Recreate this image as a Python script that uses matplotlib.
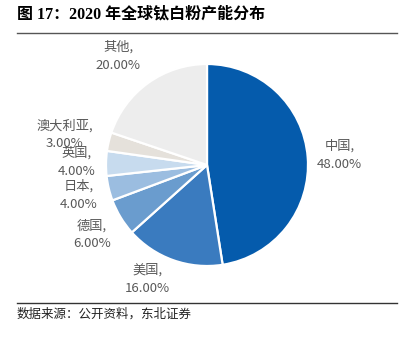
import matplotlib.pyplot as plt

plt.rcParams['font.family'] = ['Noto Sans CJK SC', 'DejaVu Sans']

regions = ['中国', '美国', '德国', '日本', '英国', '澳大利亚', '其他']
shares = [48, 16, 6, 4, 4, 3, 20]
colors = ['#055BAC', '#3A7BBF', '#6A9CCE', '#9BBDE0', '#C7DBEE', '#E5E1DB', '#EDEDED']
# label centres (data units, pie radius = 1)
label_pos = [(1.31, 0.10), (-0.59, -1.13), (-1.14, -0.69), (-1.27, -0.30),
             (-1.29, 0.03), (-1.41, 0.30), (-0.88, 1.08)]

fig = plt.figure(figsize=(4.07, 3.37), dpi=100)
ax = fig.add_axes([0, 0, 1, 1])

ax.pie(shares, colors=colors, startangle=90, counterclock=False, radius=1,
       wedgeprops=dict(edgecolor='white', linewidth=1.6))

for name, v, (x, y) in zip(regions, shares, label_pos):
    ax.text(x, y, f'{name},\n{v:.2f}%', ha='center', va='center',
            fontsize=9.5, color='#595959', linespacing=1.5)

ax.set_xlim(-207 / 101, 200 / 101)
ax.set_ylim(-172 / 101, 165 / 101)
ax.set_aspect('equal')
ax.axis('off')

fig.text(17 / 407, 1 - 15 / 337, '图 17：2020 年全球钛白粉产能分布', fontsize=11.5,
         fontweight='bold', va='center', ha='left',
         family=['Liberation Serif', 'Noto Sans CJK SC'])
fig.add_artist(plt.Line2D([17 / 407, 397 / 407], [1 - 33 / 337, 1 - 33 / 337],
                          color='#555555', linewidth=1))
fig.add_artist(plt.Line2D([17 / 407, 397 / 407], [1 - 303 / 337, 1 - 303 / 337],
                          color='#333333', linewidth=1))
fig.text(17 / 407, 1 - 314 / 337, '数据来源：公开资料，东北证券', fontsize=9,
         va='center', ha='left', color='#222222')

plt.savefig('out.png', dpi=100)
